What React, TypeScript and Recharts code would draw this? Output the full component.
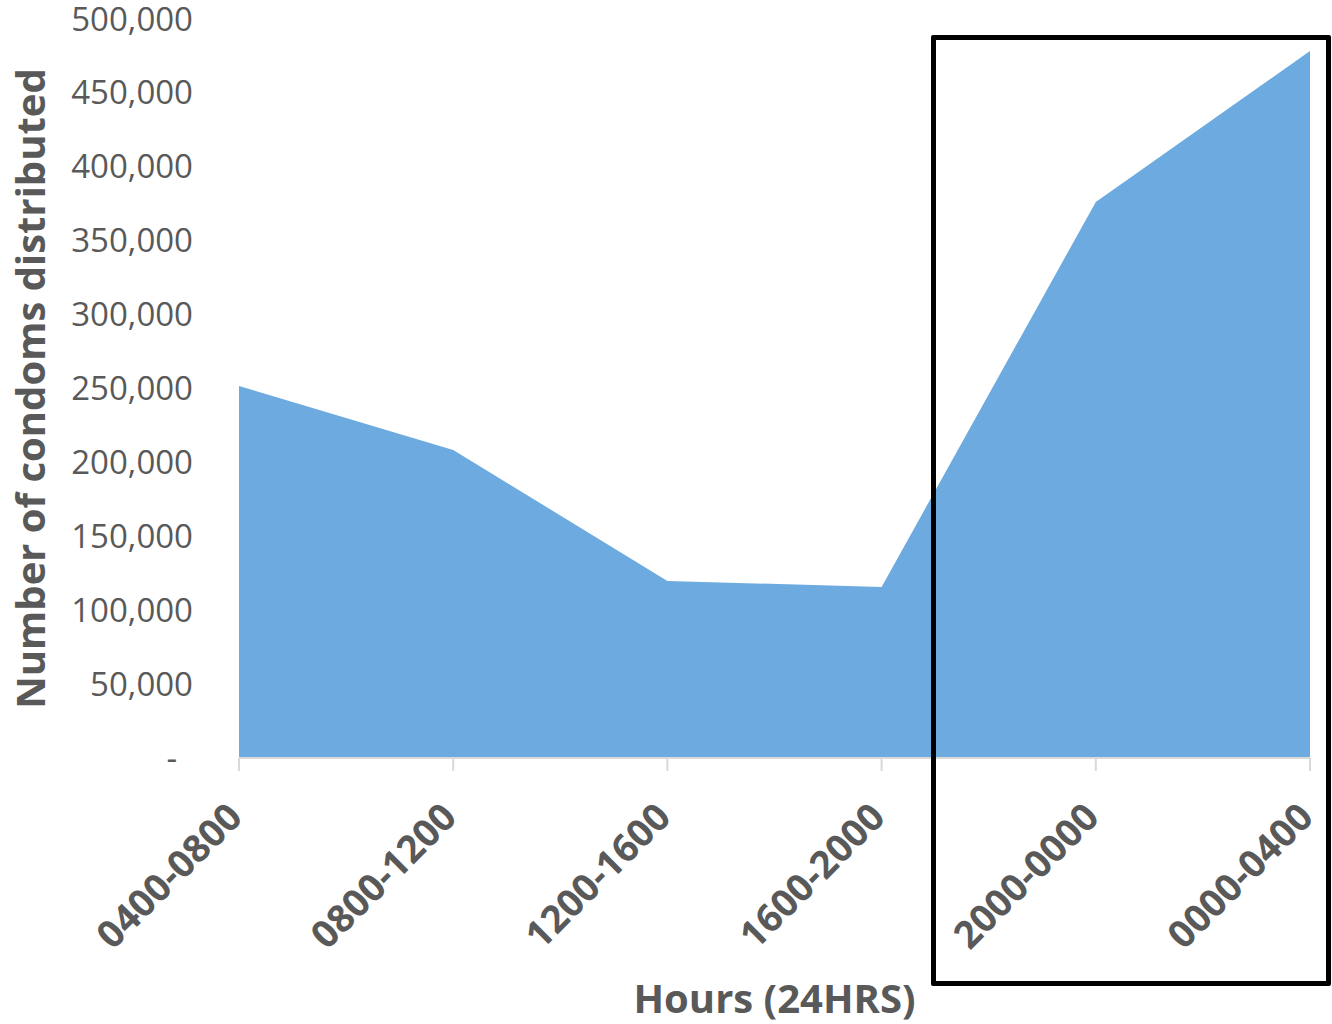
import { Area, AreaChart, XAxis, YAxis, Label } from "recharts";

const hours = ["0400-0800", "0800-1200", "1200-1600", "1600-2000", "2000-0000", "0000-0400"];
const condoms = [251700, 208400, 119800, 115700, 376200, 478300];
const yTicks = [0, 50000, 100000, 150000, 200000, 250000, 300000, 350000, 400000, 450000, 500000];

const FONT = "'Open Sans', 'DejaVu Sans', sans-serif";
const TEXT = "#595959";
const FILL = "#6DAAE0";
const AXIS_LINE = "#D9D9D9";

const data = hours.map((h, i) => ({ hour: h, value: condoms[i] }));

function YTick({ x, y, payload }: any) {
  const v = payload.value as number;
  const label = v === 0 ? "-" : v.toLocaleString("en-US");
  return (
    <text x={x + (v === 0 ? -16 : 0)} y={y} dy="0.35em" textAnchor="end" fill={TEXT} fontSize={33} fontFamily={FONT}>
      {label}
    </text>
  );
}

function XTick({ x, y, payload }: any) {
  return (
    <g transform={`translate(${x - 4},${y + 37})`}>
      <text x={0} y={0} dy="0.35em" textAnchor="end" transform="rotate(-45)" fill={TEXT} fontSize={38} fontWeight="bold" fontFamily={FONT}>
        {payload.value}
      </text>
    </g>
  );
}

export default function App() {
  return (
    <div style={{ position: "absolute", left: 0, top: 0, width: 1332, height: 1024, background: "#fff" }}>
      <AreaChart width={1332} height={1024} data={data} margin={{ top: 19, right: 22, bottom: 0, left: 0 }}>
        <XAxis
          dataKey="hour"
          height={266}
          stroke={AXIS_LINE}
          strokeWidth={2}
          tickSize={13}
          tick={<XTick />}
          interval={0}
        >
          <Label
            value="Hours (24HRS)"
            position="insideBottom"
            offset={11}
            fill={TEXT}
            fontSize={40}
            fontWeight="bold"
            fontFamily={FONT}
          />
        </XAxis>
        <YAxis
          width={239}
          domain={[0, 500000]}
          ticks={yTicks}
          axisLine={false}
          tickLine={false}
          tickSize={6}
          tickMargin={40}
          tick={<YTick />}
          interval={0}
        >
          <Label
            value="Number of condoms distributed"
            position="center"
            angle={-90}
            dx={-89}
            fill={TEXT}
            fontSize={40}
            fontWeight="bold"
            fontFamily={FONT}
          />
        </YAxis>
        <Area type="linear" dataKey="value" fill={FILL} fillOpacity={1} stroke="none" isAnimationActive={false} />
      </AreaChart>
      <div
        style={{
          position: "absolute",
          left: 931,
          top: 35,
          width: 400,
          height: 951,
          border: "5px solid #000",
          boxSizing: "border-box",
          borderRadius: 2,
          pointerEvents: "none",
        }}
      />
    </div>
  );
}
